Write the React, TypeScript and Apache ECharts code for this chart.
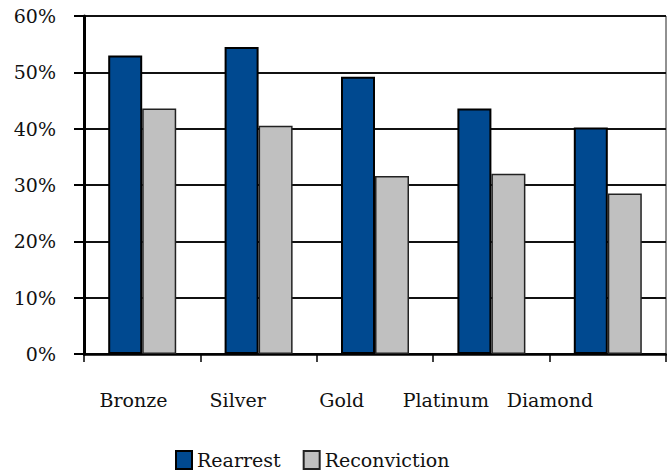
import React, { useEffect, useRef } from "react";
import * as echarts from "echarts";

const categories = ["Bronze", "Silver", "Gold", "Platinum", "Diamond"];
const rearrest = [53.0, 54.5, 49.2, 43.6, 40.2];
const reconviction = [43.6, 40.5, 31.6, 32.0, 28.5];
const seriesNames = ["Rearrest", "Reconviction"];

export default function App() {
  const ref = useRef<HTMLDivElement>(null);
  useEffect(() => {
    if (!ref.current) return;
    const chart = echarts.init(ref.current, null, { renderer: "svg" });
    const font = "DejaVu Serif";
    chart.setOption({
      animation: false,
      textStyle: { fontFamily: font },
      grid: [
        {
          left: 84,
          right: 1,
          top: 16,
          bottom: 120,
          show: true,
          borderColor: "#222",
          borderWidth: 1,
        },
        { left: 81.5, width: 520.5, top: 16, bottom: 120 },
      ],
      legend: {
        left: 175,
        top: 450,
        padding: 0,
        itemWidth: 16,
        itemHeight: 18,
        itemGap: 22,
        icon: "rect",
        textStyle: { fontFamily: font, fontSize: 19, color: "#111" },
        data: seriesNames,
      },
      xAxis: [
        {
          type: "category",
          data: categories,
          gridIndex: 0,
          axisLine: { show: true, lineStyle: { color: "#000", width: 2.5 } },
          axisTick: { show: true, length: 8, lineStyle: { color: "#000", width: 1.5 } },
          axisLabel: { show: false },
          splitLine: { show: false },
        },
        {
          type: "category",
          data: categories,
          gridIndex: 1,
          axisLine: { show: false },
          axisTick: { show: false },
          axisLabel: {
            show: true,
            interval: 0,
            hideOverlap: false,
            margin: 36,
            fontFamily: font,
            fontSize: 19,
            color: "#111",
          },
        },
      ],
      yAxis: [
        {
          type: "value",
          gridIndex: 0,
          min: 0,
          max: 60,
          interval: 10,
          axisLine: { show: true, lineStyle: { color: "#000", width: 3 } },
          axisTick: { show: true, inside: false, length: 10, lineStyle: { color: "#000", width: 2 } },
          axisLabel: { formatter: "{value}%", margin: 28, fontFamily: font, fontSize: 19, color: "#111" },
          splitLine: { show: true, lineStyle: { color: "#111", width: 2 } },
        },
        { type: "value", gridIndex: 1, show: false, min: 0, max: 60 },
      ],
      series: [
        {
          name: seriesNames[0],
          type: "bar",
          data: rearrest,
          barWidth: 34,
          barGap: "0%",
          itemStyle: { color: "#004990", borderColor: "#000", borderWidth: 2 },
        },
        {
          name: seriesNames[1],
          type: "bar",
          data: reconviction,
          barWidth: 34,
          barGap: "0%",
          itemStyle: { color: "#C0C0C0", borderColor: "#222", borderWidth: 1.5 },
        },
      ],
    });
    return () => chart.dispose();
  }, []);
  return (
    <div
      ref={ref}
      style={{ position: "fixed", left: 0, top: 0, width: 667, height: 474, background: "#fff" }}
    />
  );
}
